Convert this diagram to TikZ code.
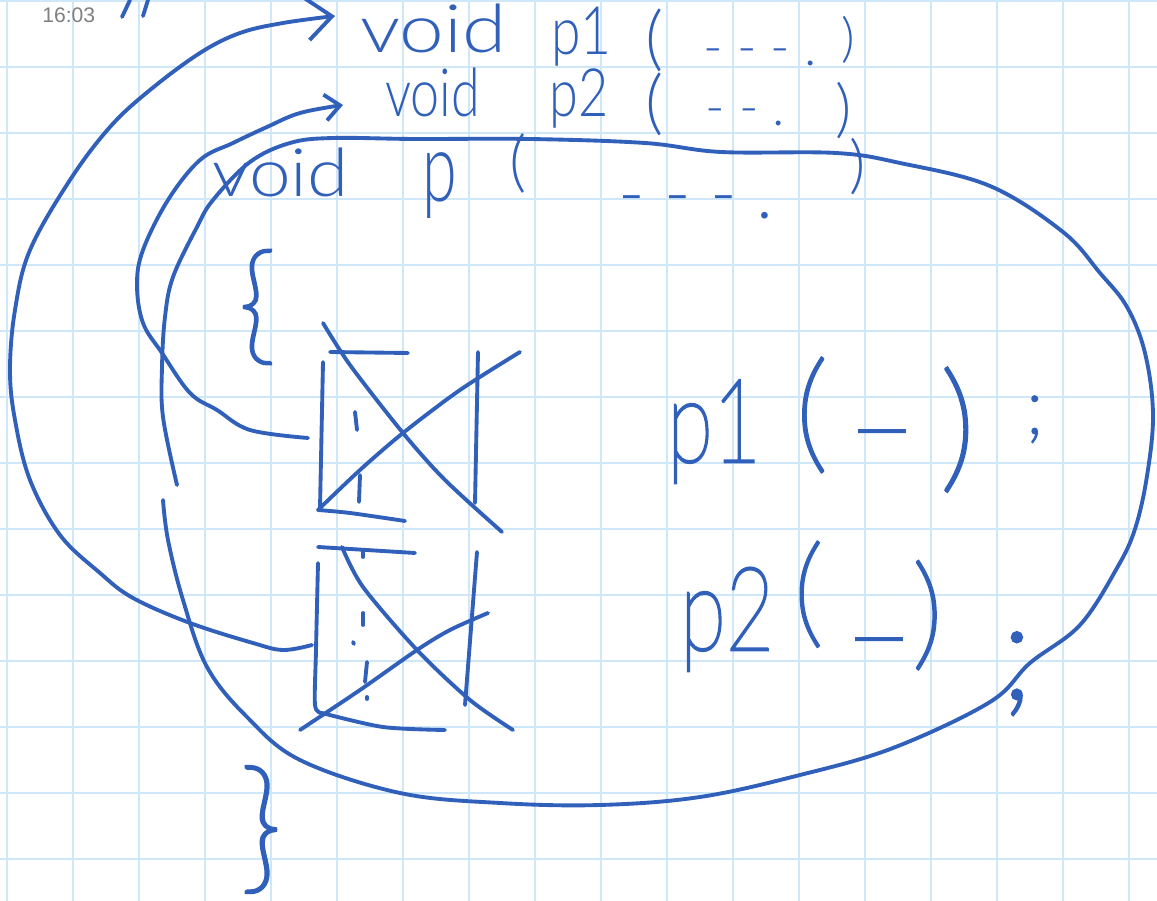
\documentclass[tikz,border=0pt]{standalone}
\usepackage{fontspec}
\IfFontExistsTF{Lato Light}{\setmainfont{Lato Light}}{%
  \IfFontExistsTF{Noto Sans Light}{\setmainfont{Noto Sans Light}}{%
    \setmainfont{Liberation Sans}}}
\IfFontExistsTF{Lato Hairline}{\newfontfamily\thinhand{Lato Hairline}[FakeBold=2.5]}{%
  \newfontfamily\thinhand{Liberation Sans}}
\newfontfamily\stampfont{Liberation Sans}
\usetikzlibrary{arrows.meta}
\definecolor{ink}{RGB}{48,96,186}
\definecolor{gridblue}{RGB}{206,232,250}
\definecolor{stampgray}{RGB}{128,128,128}
\newcommand{\handsize}[1]{\fontsize{#1}{#1}\selectfont}

\begin{document}
\begin{tikzpicture}[
    x=0.02cm, y=-0.02cm,
    stroke/.style={draw=ink, line width=2.2pt, line cap=round, line join=round},
    gridline/.style={draw=gridblue, line width=1.1pt},
    hand/.style={text=ink, inner sep=0pt, anchor=base west}
]
\useasboundingbox (0,0) rectangle (1157,901);
\fill[white] (0,0) rectangle (1157,901);

% Squared paper
\foreach \gx in {7,73,...,1129} \draw[gridline] (\gx,0) -- (\gx,901);
\foreach \gy in {1,67,...,859} \draw[gridline] (0,\gy) -- (1157,\gy);

\node[hand, font=\stampfont\handsize{12}, text=stampgray] (stamp) at (42,23) {16:03};
\draw[stroke] (130,0) -- (122,17);
\draw[stroke] (148,0) -- (143,16);

% Definitions
\node[hand, font=\handsize{38}] (voidA) at (360,53) {\scalebox{1.2}[1]{void}};
\node[hand, font=\handsize{38}] (pA) at (551,55) {\scalebox{0.8}[1]{p1}};
\node[hand, font=\handsize{40}] (openA) at (645,63) {(};
\node[hand, font=\handsize{30}] (dotsA) at (703,66) {- - - .};
\node[hand, font=\handsize{30}] (closeA) at (841,57) {)};

\node[hand, font=\handsize{38}] (voidB) at (385,117) {\scalebox{0.78}[1]{void}};
\node[hand, font=\handsize{38}] (pB) at (549,117) {\scalebox{0.78}[1]{p2}};
\node[hand, font=\handsize{40}] (openB) at (645,127) {(};
\node[hand, font=\handsize{30}] (dotsB) at (705,126) {- - .};
\node[hand, font=\handsize{36}] (closeB) at (835,131) {)};

\node[hand, font=\handsize{38}] (voidC) at (212,197) {\scalebox{1.12}[1]{void}};
\node[hand, font=\handsize{55}] (pC) at (422,202) {\scalebox{0.65}[1]{p}};
\node[hand, font=\handsize{38}] (openC) at (509,185) {(};
\node[hand, font=\handsize{41}] (dotsC) at (618,219) {- - - .};
\node[hand, font=\handsize{36}] (closeC) at (849,187) {)};

% Body of p
\node[hand, font=\thinhand\handsize{74}] (openbrace) at (238,348) {\{};
\node[hand, font=\thinhand\handsize{82}] (closebrace) at (240,875) {\}};

\node[hand, font=\thinhand\handsize{66}] (callA) at (667,462) {\scalebox{0.72}[1]{p1}};
\node[hand, font=\thinhand\handsize{74}] (callAopen) at (795,456) {(};
\node[hand, font=\thinhand\handsize{66}] (callAarg) at (848,464) {–};
\node[hand, font=\thinhand\handsize{80}] (callAclose) at (940,474) {)};
\node[hand, font=\thinhand\handsize{44}] (callAsemi) at (1025,433) {;};

\node[hand, font=\thinhand\handsize{66}] (callB) at (680,650) {\scalebox{0.72}[1]{p2}};
\node[hand, font=\thinhand\handsize{68}] (callBopen) at (793,632) {(};
\node[hand, font=\thinhand\handsize{66}] (callBarg) at (845,672) {–};
\node[hand, font=\thinhand\handsize{70}] (callBclose) at (912,654) {)};
\node[hand, font=\thinhand\handsize{78}] (callBsemi) at (1000,698) {;};

% Crossed-out boxes
\draw[stroke] (330,352) -- (408,353);
\draw[stroke] (323,362) -- (320,508);
\draw[stroke] plot[smooth] coordinates {(318,510) (350,513) (405,521)};
\draw[stroke] (478,352) -- (475,503);
\draw[stroke] plot[smooth] coordinates {(323,323) (350,365) (403,433) (445,480) (502,532)};
\draw[stroke] plot[smooth] coordinates {(318,510) (360,470) (403,433) (460,390) (520,352)};
\draw[stroke] (355,412) -- (357,430);
\draw[stroke] (360,475) -- (359,502);

\draw[stroke] (318,547) -- (415,553);
\draw[stroke] plot[smooth] coordinates {(318,563) (316,650) (315,705) (322,713)};
\draw[stroke] plot[smooth] coordinates {(322,713) (383,727) (445,730)};
\draw[stroke] (477,552) -- (465,705);
\draw[stroke] plot[smooth] coordinates {(342,547) (363,587) (417,650) (470,700) (513,730)};
\draw[stroke] plot[smooth] coordinates {(300,730) (360,690) (417,650) (450,630) (488,613)};
\draw[stroke] (363,550) -- (363,557);
\draw[stroke] (363,613) -- (363,625);
\draw[stroke] (353,642) -- (354,644);
\draw[stroke] (367,662) -- (365,682);
\draw[stroke] (367,697) -- (367,699);

% Big loop round p
\draw[stroke] plot[smooth, tension=0.6] coordinates {(163,500) (168,540) (183,600) (207,667) (247,717) (300,760) (400,793) (500,803) (600,805) (700,797) (800,775) (893,748) (990,702) (1030,663) (1080,625) (1117,568) (1135,529) (1147,476) (1153,414) (1145,353) (1127,307) (1100,273) (1063,232) (990,186) (900,163) (836,153) (721,152) (645,143) (530,139) (415,139) (333,138) (290,143) (250,162) (213,200) (197,227) (173,277) (165,317) (162,367) (163,417) (177,485)};

% Calls jump to the definitions
\coordinate (boxAwest) at (308,438);
\coordinate (boxBwest) at (312,645);
\coordinate (defAtip) at (335,16);
\coordinate (defBtip) at (343,105);

\draw[stroke, -{Straight Barb[length=0.5cm, width=0.84cm]}] plot[smooth, tension=0.6] coordinates {(boxBwest) (283,650) (253,643) (190,623) (133,598) (100,573) (60,535) (30,480) (15,420) (10,370) (15,310) (30,250) (70,180) (110,127) (150,90) (200,53) (240,33) (283,23) (defAtip)};
\draw[stroke, -{Straight Barb[length=0.3cm, width=0.52cm]}] plot[smooth, tension=0.6] coordinates {(boxAwest) (250,430) (217,410) (190,393) (162,353) (143,323) (137,285) (143,250) (168,200) (200,160) (233,143) (267,127) (300,113) (defBtip)};

\end{tikzpicture}
\end{document}
